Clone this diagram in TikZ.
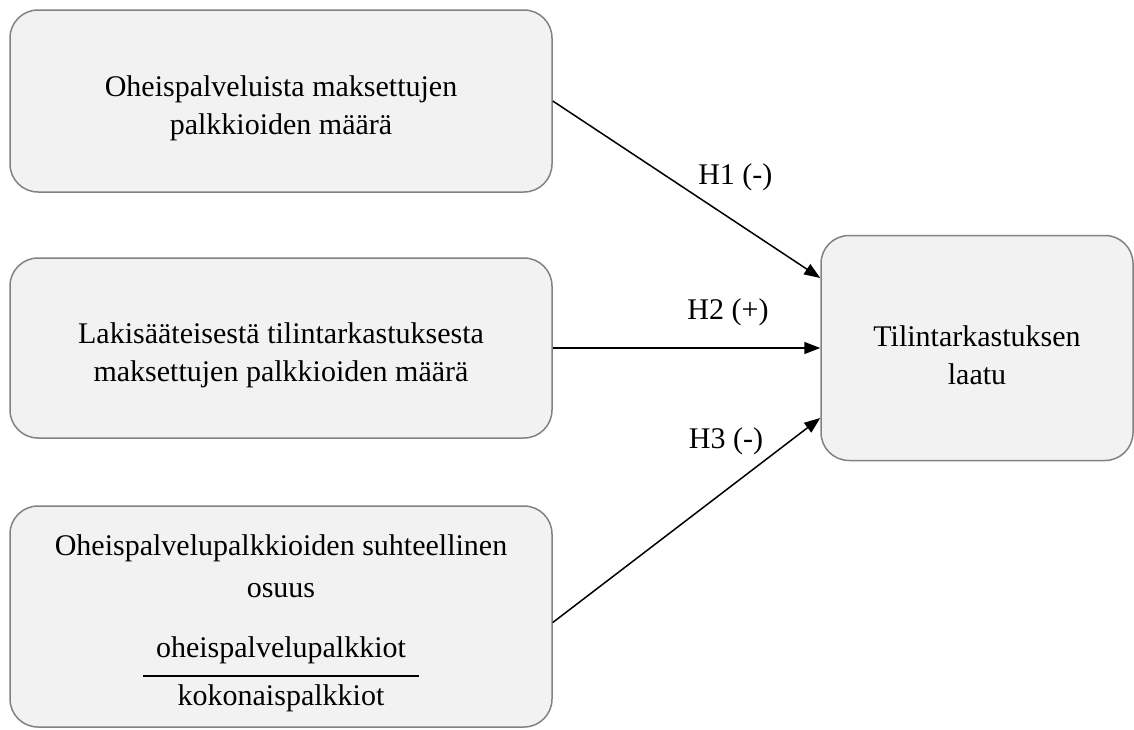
\documentclass[tikz,border=0pt]{standalone}
\usepackage{fontspec}
\setmainfont{Liberation Serif}
\usepackage{xcolor}
\usetikzlibrary{arrows.meta,positioning,calc}
\definecolor{boxfill}{HTML}{F2F2F2}
\definecolor{boxline}{HTML}{828282}
\newcommand{\lift}{\rule{0pt}{17.5pt}}

\begin{document}
\begin{tikzpicture}[x=0.5pt, y=-0.5pt,
  box/.style={draw=boxline, fill=boxfill, line width=0.75pt, rounded corners=14pt, align=center,
    font=\fontsize{15}{19}\selectfont, inner sep=0pt, minimum width=271pt},
  arr/.style={-{Triangle[length=8pt, width=6pt]}, line width=0.75pt},
  hyp/.style={font=\fontsize{15}{19}\selectfont, inner sep=1.5pt}]
  \useasboundingbox (0,0) rectangle (1134,729);
  \node[box, minimum height=91pt] (other) at (281,101) {\lift Oheispalveluista maksettujen\\palkkioiden määrä};
  \node[box, minimum height=90pt] (audit) at (281,348) {\lift Lakisääteisestä tilintarkastuksesta\\maksettujen palkkioiden määrä};
  \node[box, minimum height=110.5pt] (share) at (281,616.5) {\lift Oheispalvelupalkkioiden suhteellinen\\[2pt]osuus\\[11pt]oheispalvelupalkkiot\\[-9.5pt]\rule{138pt}{0.75pt}\\[-4.5pt]kokonaispalkkiot};
  \node[box, minimum width=156pt, minimum height=112.5pt] (quality) at (977,348) {\lift Tilintarkastuksen\\laatu};
  \draw[arr] (other.east) -- node[hyp, pos=0.53, anchor=south west] {H1 (-)} ([yshift=35pt]quality.west);
  \draw[arr] (audit.east) -- node[hyp, pos=0.655, above=9pt] {H2 (+)} (quality.west);
  \draw[arr] ([yshift=-3pt]share.east) -- node[hyp, pos=0.8, anchor=south east] {H3 (-)} ([yshift=-35pt]quality.west);
\end{tikzpicture}
\end{document}
